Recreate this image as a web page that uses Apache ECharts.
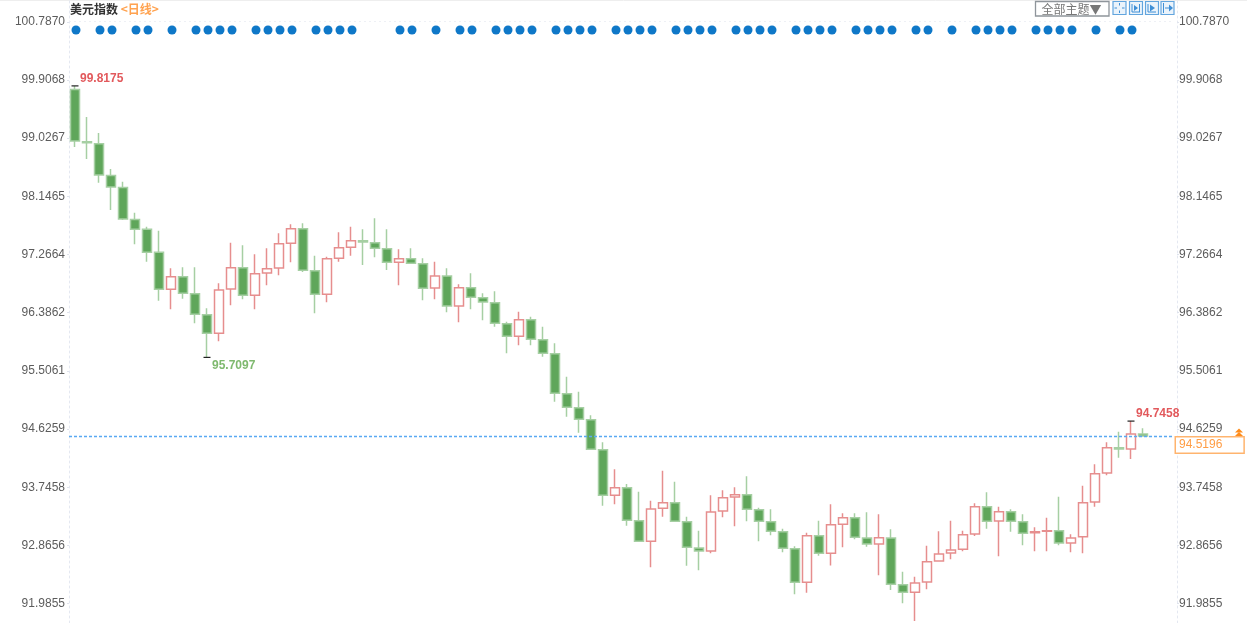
<!DOCTYPE html>
<html>
<head>
<meta charset="utf-8">
<style>html,body{margin:0;padding:0;background:#fff}#c{width:1247px;height:623px;filter:blur(0.4px)}</style>
<script src="https://cdn.jsdelivr.net/npm/echarts@6/dist/echarts.min.js"></script>
</head>
<body>
<div id="c"></div>
<script>
const opens = [99.763,98.973,98.943,98.462,98.280,97.796,97.648,97.300,96.740,96.931,
96.673,96.356,96.074,96.744,97.067,96.649,96.987,97.062,97.436,97.657,
97.021,96.664,97.209,97.375,97.475,97.445,97.354,97.148,97.203,97.127,
96.760,96.941,96.487,96.764,96.613,96.537,96.219,96.029,96.280,95.977,
95.766,95.160,94.949,94.767,94.313,93.623,93.738,93.239,92.927,93.426,
93.511,93.224,92.826,92.780,93.386,93.597,93.632,93.405,93.224,93.072,
92.815,92.307,93.012,92.746,93.184,93.284,92.977,92.886,92.977,92.271,
92.155,92.311,92.629,92.750,92.806,93.038,93.451,93.234,93.375,93.224,
93.057,93.078,93.087,92.901,92.997,93.522,93.961,94.343,94.324,94.551];
const closes = [98.984,98.958,98.469,98.288,97.804,97.648,97.300,96.740,96.931,96.679,
96.362,96.074,96.729,97.067,96.649,96.976,97.052,97.430,97.657,97.027,
96.664,97.203,97.369,97.475,97.456,97.360,97.148,97.203,97.133,96.755,
96.941,96.487,96.764,96.619,96.548,96.226,96.029,96.280,95.983,95.772,
95.166,94.955,94.773,94.319,93.623,93.738,93.245,92.927,93.416,93.511,
93.230,92.836,92.780,93.370,93.587,93.632,93.411,93.230,93.078,92.821,
92.307,93.012,92.746,93.178,93.284,92.988,92.886,92.982,92.276,92.155,
92.296,92.618,92.735,92.795,93.027,93.451,93.230,93.375,93.230,93.048,
93.072,93.087,92.901,92.977,93.511,93.950,94.343,94.324,94.551,94.5196];
const lows = [98.893,98.711,98.353,97.940,97.788,97.421,97.157,96.567,96.437,96.598,
96.226,95.7097,95.953,96.498,96.589,96.437,96.800,96.952,97.148,97.002,
96.377,96.543,97.157,97.248,97.108,97.224,97.032,96.800,97.123,96.573,
96.589,96.392,96.241,96.437,96.271,96.174,95.772,95.893,95.893,95.720,
95.039,94.812,94.570,94.313,93.466,93.487,93.163,92.921,92.534,93.299,
93.224,92.558,92.488,92.746,93.290,93.154,93.230,92.927,93.018,92.761,
92.125,92.150,92.709,92.561,92.836,92.957,92.845,92.413,92.190,91.989,
91.721,92.201,92.629,92.655,92.776,93.007,93.118,92.700,93.072,92.867,
92.776,92.776,92.867,92.761,92.746,93.451,93.926,94.192,94.172,94.5196];
const highs = [99.8175,99.347,99.105,98.560,98.368,97.899,97.687,97.627,97.058,97.073,
97.073,96.452,96.831,97.445,97.406,97.269,97.360,97.587,97.723,97.738,
97.248,97.233,97.602,97.687,97.648,97.814,97.648,97.345,97.360,97.209,
97.157,97.058,96.816,96.982,96.679,96.710,96.250,96.401,96.325,96.174,
95.923,95.418,95.191,94.834,94.425,94.016,93.794,93.678,93.541,93.995,
93.829,93.299,93.087,93.623,93.699,93.744,93.911,93.435,93.411,93.118,
92.852,93.057,93.239,93.487,93.351,93.351,93.366,93.336,93.109,92.467,
92.392,92.861,93.078,93.239,93.087,93.502,93.669,93.451,93.411,93.336,
93.139,93.284,93.602,93.033,93.768,94.092,94.425,94.585,94.7458,94.637];
const dotIndexes = [0,2,3,5,6,8,10,11,12,13,15,16,17,18,20,21,22,23,27,28,30,32,33,
35,36,37,38,40,41,42,43,45,46,47,48,50,51,52,53,55,56,57,58,60,61,62,63,65,66,67,68,
70,71,73,75,76,77,78,80,81,82,83,85,87,88];
const dotLevel = 100.663;
const yTicks = [100.7870,99.9068,99.0267,98.1465,97.2664,96.3862,95.5061,94.6259,93.7458,92.8656,91.9855];
const lastPrice = 94.5196;
const topTick = 100.7870;
const categories = Array.from({length:92},(_,i)=>String(i+1));
const extremes = [
  {i:0, v:99.8175, color:'#e2595c', dy:-7},
  {i:11, v:95.7097, color:'#7fb96f', dy:8},
  {i:88, v:94.7458, color:'#e2595c', dy:-7}
];
const sans = '"Liberation Sans", Arial, sans-serif';
const cjk = '"Noto Sans CJK SC", sans-serif';

const axisLine = {show:true,lineStyle:{color:'#e4e8f1',type:[2,3],width:1}};
function yAxis(position, margin, offset){
  return {type:'value',position,min:91.691,max:101.117,offset,scale:true,
    axisLine,splitLine:{show:false},
    axisTick:{show:true,length:2,inside:false,customValues:yTicks,lineStyle:{color:'#dfe3ec'}},
    axisLabel:{customValues:yTicks,margin,color:'#5c5c5c',fontFamily:sans,fontSize:12,
      formatter:v=>v.toFixed(4)}};
}
function btn(x,w){return {type:'rect',shape:{x,y:1.5,width:w,height:13},style:{fill:'#eaf3fb',stroke:'#62a5de',lineWidth:1.2}};}
function ln(x1,y1,x2,y2){return {type:'line',shape:{x1,y1,x2,y2},style:{stroke:'#3f8fd6',lineWidth:1}};}
function tri(pts){return {type:'polygon',shape:{points:pts},style:{fill:'#3f8fd6'}};}

const chart = echarts.init(document.getElementById('c'),null,{renderer:'canvas'});
chart.setOption({
  animation:false,
  backgroundColor:'#fff',
  title:{left:70,top:3,padding:0,text:'{a|美元指数}{b| <日线>}',
    textStyle:{rich:{a:{color:'#333',fontSize:12,fontFamily:cjk},b:{color:'#ffa24f',fontSize:12,fontFamily:cjk}}}},
  grid:{left:69,right:74,top:0,bottom:0},
  xAxis:{type:'category',data:categories,show:false},
  yAxis:[yAxis('left',4,0),yAxis('right',2,4)],
  series:[
    {type:'candlestick',barWidth:9,clip:false,
     data:opens.map((o,i)=>[o,closes[i],lows[i],highs[i]]),
     itemStyle:{color:'#fff',color0:'#5fa65a',borderColor:'#e68e8e',borderColor0:'#a6cfa3',borderWidth:1.5},
     markPoint:{symbol:'rect',symbolSize:[7,1.2],silent:true,
       itemStyle:{color:'#222'},
       data:extremes.map(e=>({coord:[e.i,e.v],label:{show:true,position:'right',distance:1,offset:[0.5,e.dy],
         formatter:e.v.toFixed(4),color:e.color,fontFamily:sans,fontSize:12,fontWeight:'bold'}}))},
     markLine:{silent:true,symbol:'none',animation:false,
       data:[
         {yAxis:lastPrice,lineStyle:{color:'#5aa9f2',type:[3,2],width:1.3},
          label:{show:true,position:'end',distance:3,offset:[0,9],formatter:lastPrice.toFixed(4),
            color:'#ff9d45',fontFamily:sans,fontSize:12,backgroundColor:'#fff',
            borderColor:'#ffb46e',borderWidth:1.5,padding:[2,21,1,3]}},
         {yAxis:topTick,lineStyle:{color:'#eef0f5',type:[2,3],width:1},label:{show:false}}
       ]}
    },
    {type:'scatter',symbol:'circle',symbolSize:9,symbolOffset:[1,0],
     itemStyle:{color:'#0f78c8',opacity:1},
     data:dotIndexes.map(i=>[i,dotLevel])}
  ],
  graphic:[
    {type:'line',shape:{x1:0,y1:0.5,x2:1247,y2:0.5},style:{stroke:'#eeeeee',lineWidth:1}},
    {type:'rect',shape:{x:1035.5,y:1.5,width:73.5,height:14.5},style:{fill:'#fff',stroke:'#8f959b',lineWidth:1.3}},
    {type:'text',x:1041.5,y:3,style:{text:'全部主题▼',font:'12px '+cjk,fill:'#777'}},
    btn(1113,13),ln(1119.5,3,1119.5,5.5),ln(1119.5,10.5,1119.5,13),ln(1114.5,8,1117,8),ln(1122,8,1124.5,8),
    btn(1129.5,13),ln(1132,4,1132,12),ln(1132,12,1140,12),ln(1139.5,4,1139.5,12),tri([[1134,5],[1138,8],[1134,11]]),
    btn(1145.5,13),ln(1148,4,1148,12),ln(1148,12,1156,12),tri([[1150,4.5],[1155,8],[1150,11.5]]),
    btn(1161,13),ln(1163.5,3,1163.5,13),ln(1165,8,1169,8),tri([[1169,4.5],[1173,8],[1169,11.5]]),
    {type:'polygon',shape:{points:[[1239,428.5],[1243,432.5],[1235,432.5]]},style:{fill:'#ff8c1a'}},
    {type:'polygon',shape:{points:[[1239,432],[1243,436],[1235,436]]},style:{fill:'#ff8c1a'}}
  ]
});
</script>
</body>
</html>
